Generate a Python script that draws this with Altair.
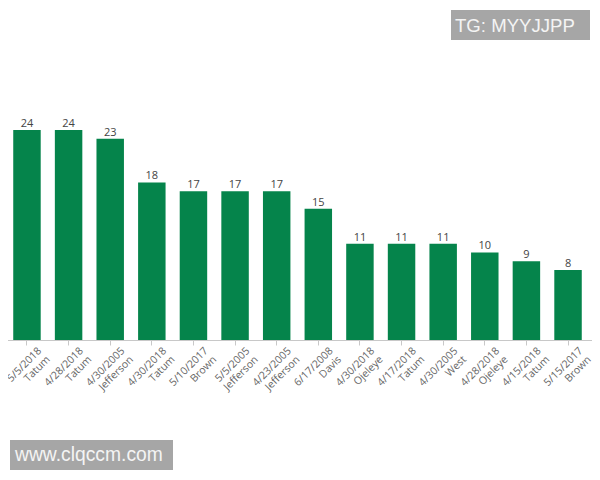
import altair as alt
import pandas as pd

dates = ["5/5/2018","4/28/2018","4/30/2005","4/30/2018","5/10/2017","5/5/2005","4/23/2005",
         "6/17/2008","4/30/2018","4/17/2018","4/30/2005","4/28/2018","4/15/2018","5/15/2017"]
players = ["Tatum","Tatum","Jefferson","Tatum","Brown","Jefferson","Jefferson",
           "Davis","Ojeleye","Tatum","West","Ojeleye","Tatum","Brown"]
values = [24,24,23,18,17,17,17,15,11,11,11,10,9,8]

GREEN = "#05844b"
GREY = "#a6a6a6"
FONT = "Open Sans"

df = pd.DataFrame({"label":[f"{d}|{p}" for d,p in zip(dates,players)], "value":values})

xs = alt.X("label:N", sort=None, title=None,
    scale=alt.Scale(range=[-8,587], paddingInner=0.34, paddingOuter=0.318),
    axis=alt.Axis(labelAngle=315, labelAlign="right", labelBaseline="middle",
                  labelExpr="split(datum.label,'|')", labelFont=FONT, labelFontSize=10.5,
                  labelColor="#666666", labelPadding=4, labelOverlap=False, labelLineHeight=12,
                  tickColor="#c8c8c8", domainColor="#c8c8c8", tickSize=5, grid=False,
                  labelOffset=13))
ys = alt.Y("value:Q", title=None, scale=alt.Scale(domain=[0,37.94], nice=False), axis=None)

bars = alt.Chart(df).mark_bar(color=GREEN).encode(x=xs, y=ys)
labels = alt.Chart(df).mark_text(baseline="bottom", dy=-1, font=FONT, fontSize=11, color="#444444").encode(
    x=alt.X("label:N", sort=None), y=alt.Y("value:Q"), text="value:Q")

def box(x1,x2,y1,y2):
    return alt.Chart(pd.DataFrame({"a":[0]})).mark_rect(color=GREY).encode(
        x=alt.value(x1), x2=alt.value(x2), y=alt.value(y1), y2=alt.value(y2))
def txt(s,x,y,size):
    return alt.Chart(pd.DataFrame({"a":[0]})).mark_text(text=s, align="left", baseline="middle",
        font="Liberation Sans", fontSize=size, color="#f4f4f4").encode(x=alt.value(x), y=alt.value(y))

chart = alt.layer(bars, labels,
                  box(443,582,2,32), txt("TG: MYYJJPP",447,18,18.6),
                  box(2,165,432,462), txt("www.clqccm.com",7,447,19.3)
    ).resolve_scale(x="shared", y="shared").properties(
    width=584, height=332,
    padding={"left":0,"right":0,"top":0,"bottom":132},
    autosize=alt.AutoSizeParams(type="none"),
    background="white"
).configure_view(stroke=None)

chart.save("out.html", embed_options={"renderer":"svg","actions":False})
